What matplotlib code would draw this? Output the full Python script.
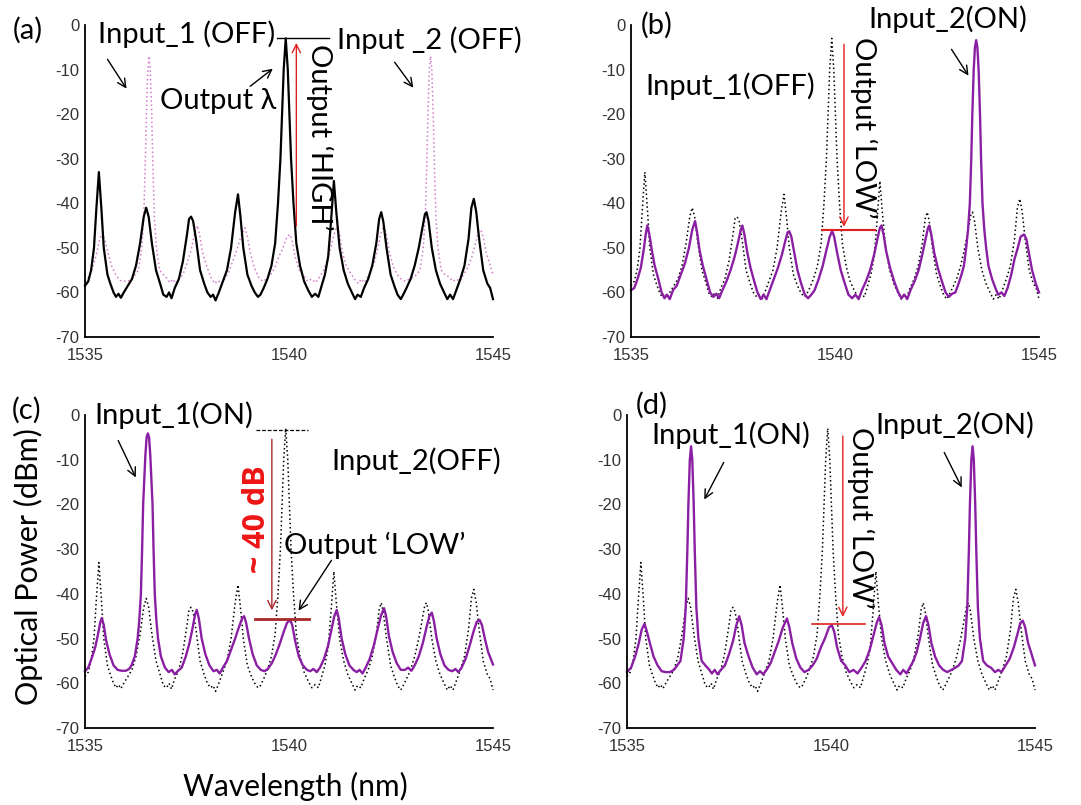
import numpy as np
import matplotlib
matplotlib.use("Agg")
import matplotlib.pyplot as plt

W, H = 1081, 805

# ---------------- data (wavelength nm, power dBm) ----------------
# output of the gate, both inputs OFF (black in (a), dotted reference in b-d)
spec_out = [
    (1535.00, -58.5), (1535.08, -57.5), (1535.15, -55), (1535.22, -50), (1535.28, -41),
    (1535.34, -33), (1535.40, -41), (1535.46, -50), (1535.55, -56), (1535.62, -58),
    (1535.70, -60), (1535.76, -61), (1535.82, -60.3), (1535.88, -61.2), (1535.95, -60),
    (1536.05, -58.5), (1536.15, -57), (1536.25, -54), (1536.35, -49), (1536.44, -43),
    (1536.50, -41), (1536.56, -43), (1536.64, -49), (1536.74, -55), (1536.84, -58),
    (1536.92, -60.5), (1537.00, -61), (1537.06, -60), (1537.12, -61.3), (1537.20, -59),
    (1537.30, -57), (1537.40, -53), (1537.50, -47), (1537.55, -43.5), (1537.60, -43),
    (1537.65, -44), (1537.72, -48), (1537.82, -55), (1537.92, -58), (1538.00, -60),
    (1538.08, -61), (1538.14, -60.5), (1538.20, -61.8), (1538.28, -60), (1538.38, -57.5),
    (1538.48, -55), (1538.58, -50), (1538.68, -42), (1538.75, -38), (1538.81, -43),
    (1538.88, -50), (1538.98, -56), (1539.08, -58.5), (1539.16, -60), (1539.24, -61),
    (1539.30, -60.5), (1539.38, -59), (1539.47, -57), (1539.57, -54), (1539.66, -49),
    (1539.73, -40), (1539.79, -30), (1539.83, -20), (1539.87, -10), (1539.92, -3),
    (1539.97, -10), (1540.01, -20), (1540.05, -30), (1540.11, -40), (1540.18, -49),
    (1540.27, -54), (1540.37, -57.5), (1540.47, -59.5), (1540.56, -61), (1540.64, -60.3),
    (1540.72, -61), (1540.80, -58.5), (1540.88, -56), (1540.96, -52), (1541.03, -44),
    (1541.10, -35), (1541.16, -42), (1541.24, -50), (1541.34, -55), (1541.44, -58),
    (1541.54, -60), (1541.62, -61.5), (1541.68, -60.5), (1541.76, -61), (1541.84, -59),
    (1541.94, -57), (1542.04, -54), (1542.14, -49), (1542.21, -43.5), (1542.26, -42),
    (1542.31, -44), (1542.39, -50), (1542.49, -56), (1542.58, -58.5), (1542.66, -60.5),
    (1542.74, -61.5), (1542.80, -60.5), (1542.88, -59), (1542.98, -57), (1543.08, -54),
    (1543.18, -50), (1543.28, -45), (1543.33, -42.5), (1543.37, -42), (1543.42, -44),
    (1543.50, -50), (1543.60, -55), (1543.70, -58), (1543.80, -60), (1543.88, -61.5),
    (1543.95, -60.5), (1544.02, -61.5), (1544.10, -59.5), (1544.20, -57), (1544.30, -54),
    (1544.40, -48), (1544.47, -41), (1544.53, -39), (1544.59, -42), (1544.66, -48),
    (1544.76, -55), (1544.86, -58), (1544.93, -59), (1545.00, -61.5),
]

# Input_2 ON (purple in (b))
spec_b = [
    (1535.00, -59.5), (1535.08, -59), (1535.16, -57), (1535.24, -54.5), (1535.31, -50.5),
    (1535.36, -47), (1535.40, -45), (1535.45, -47), (1535.51, -50.5), (1535.58, -54),
    (1535.67, -57), (1535.75, -60), (1535.82, -61.3), (1535.88, -60.5), (1535.95, -61.5),
    (1536.03, -59.5), (1536.12, -58.5), (1536.22, -56), (1536.32, -53.5), (1536.42, -50),
    (1536.50, -46), (1536.57, -44), (1536.62, -46.5), (1536.68, -50.5), (1536.76, -54),
    (1536.85, -57), (1536.94, -60), (1537.02, -61), (1537.09, -60.3), (1537.16, -61.3),
    (1537.24, -59.5), (1537.34, -57.5), (1537.44, -55), (1537.54, -52), (1537.63, -48.5),
    (1537.69, -46), (1537.73, -45), (1537.78, -47), (1537.85, -51), (1537.93, -54.5),
    (1538.02, -57.5), (1538.10, -60), (1538.18, -61.5), (1538.25, -60.5), (1538.32, -61.5),
    (1538.40, -59.5), (1538.50, -57), (1538.60, -54.5), (1538.70, -51.5), (1538.78, -48.5),
    (1538.84, -46.5), (1538.88, -46.3), (1538.93, -47.5), (1539.00, -51), (1539.08, -55),
    (1539.17, -58), (1539.26, -60.5), (1539.34, -61.3), (1539.42, -60.5), (1539.50, -59.5),
    (1539.60, -57), (1539.70, -54), (1539.79, -50.5), (1539.87, -47.5), (1539.93, -46.2),
    (1539.98, -47.5), (1540.05, -51), (1540.14, -55), (1540.24, -58), (1540.33, -60.5),
    (1540.42, -61.3), (1540.50, -60.5), (1540.58, -61.5), (1540.66, -59.5), (1540.76, -57.5),
    (1540.86, -55), (1540.96, -51.5), (1541.04, -48), (1541.10, -45.5), (1541.14, -45),
    (1541.19, -47), (1541.26, -51), (1541.35, -54.5), (1541.45, -57.5), (1541.55, -60),
    (1541.63, -61.3), (1541.70, -60.5), (1541.77, -61.5), (1541.85, -59.5), (1541.95, -57.5),
    (1542.05, -55), (1542.14, -51.5), (1542.22, -48), (1542.28, -45.5), (1542.31, -45),
    (1542.36, -47), (1542.43, -51), (1542.52, -54.5), (1542.62, -57.5), (1542.71, -60),
    (1542.79, -61), (1542.87, -60.3), (1542.95, -60), (1543.03, -58), (1543.10, -56),
    (1543.16, -54), (1543.215, -50), (1543.26, -46), (1543.305, -40), (1543.34, -30),
    (1543.366, -20), (1543.40, -10), (1543.43, -5), (1543.46, -3.4), (1543.49, -5),
    (1543.52, -10), (1543.554, -20), (1543.58, -30), (1543.615, -40), (1543.66, -46),
    (1543.705, -50), (1543.76, -54), (1543.85, -57), (1543.93, -59), (1544.00, -60.5),
    (1544.08, -60), (1544.15, -60.8), (1544.23, -59), (1544.32, -56), (1544.40, -52.5),
    (1544.48, -50), (1544.55, -47.5), (1544.63, -47), (1544.69, -48), (1544.75, -51),
    (1544.83, -55), (1544.92, -58), (1545.00, -60),
]

# Input_1 ON (purple in (c))
spec_c = [
    (1535.00, -57.3), (1535.08, -56.5), (1535.16, -54.5), (1535.25, -52), (1535.32, -49),
    (1535.37, -46.5), (1535.41, -45.4), (1535.46, -47), (1535.52, -50.5), (1535.60, -53.5),
    (1535.70, -56), (1535.80, -57), (1535.90, -57.2), (1536.00, -57.2), (1536.08, -56.8),
    (1536.14, -56), (1536.22, -54), (1536.29, -50), (1536.33, -46), (1536.37, -40),
    (1536.40, -30), (1536.425, -20), (1536.45, -15), (1536.48, -9), (1536.51, -5),
    (1536.54, -4.1), (1536.57, -5), (1536.60, -9), (1536.63, -15), (1536.655, -20),
    (1536.68, -30), (1536.71, -40), (1536.75, -46), (1536.79, -50), (1536.86, -54),
    (1536.96, -56.5), (1537.05, -57.5), (1537.13, -57), (1537.20, -58), (1537.28, -57.2),
    (1537.37, -56.5), (1537.47, -54), (1537.56, -51), (1537.64, -47.5), (1537.70, -44.5),
    (1537.74, -43.6), (1537.79, -45.5), (1537.86, -50), (1537.95, -53.5), (1538.05, -56),
    (1538.15, -57.3), (1538.23, -57), (1538.30, -57.8), (1538.38, -56.5), (1538.48, -55),
    (1538.58, -52.5), (1538.68, -50), (1538.77, -47.5), (1538.85, -45.5), (1538.90, -45),
    (1538.95, -46.5), (1539.02, -50), (1539.11, -53.5), (1539.21, -56), (1539.31, -57),
    (1539.40, -57.3), (1539.48, -56.8), (1539.58, -55.5), (1539.68, -53.5), (1539.78, -51),
    (1539.87, -48.5), (1539.95, -46.5), (1540.03, -45.8), (1540.08, -47), (1540.15, -50.5),
    (1540.24, -54), (1540.34, -56), (1540.44, -57), (1540.52, -57.3), (1540.60, -56.8),
    (1540.68, -57.5), (1540.76, -56.5), (1540.86, -54.5), (1540.96, -51.5), (1541.04, -48),
    (1541.11, -45), (1541.17, -43.6), (1541.22, -45.5), (1541.29, -50), (1541.38, -53.5),
    (1541.48, -56), (1541.58, -57), (1541.66, -57.5), (1541.73, -57), (1541.80, -57.8),
    (1541.88, -56.5), (1541.98, -54.5), (1542.08, -51.5), (1542.17, -48), (1542.25, -45),
    (1542.33, -43.2), (1542.38, -45), (1542.45, -49.5), (1542.54, -53), (1542.64, -55.5),
    (1542.74, -57), (1542.84, -57), (1542.92, -56.5), (1543.00, -57.2), (1543.08, -56),
    (1543.18, -54), (1543.28, -51), (1543.37, -47.5), (1543.44, -45), (1543.50, -44.2),
    (1543.55, -46), (1543.62, -50), (1543.71, -53.5), (1543.81, -56), (1543.91, -57),
    (1544.00, -57.3), (1544.08, -56.8), (1544.15, -57.5), (1544.23, -56.5), (1544.33, -54.5),
    (1544.43, -51.5), (1544.52, -48.5), (1544.60, -46.3), (1544.67, -45.8), (1544.73, -47),
    (1544.80, -50), (1544.88, -53), (1545.00, -55.8),
]

# both inputs ON (purple in (d), pink dotted in (a))
spec_d = [
    (1535.00, -57.5), (1535.10, -56.5), (1535.20, -54), (1535.29, -51), (1535.36, -48),
    (1535.43, -46.7), (1535.49, -48.5), (1535.56, -51), (1535.65, -54), (1535.75, -56),
    (1535.85, -57.3), (1535.95, -57.5), (1536.05, -57.5), (1536.15, -57), (1536.23, -56),
    (1536.31, -55), (1536.39, -50), (1536.44, -43), (1536.48, -30), (1536.505, -20),
    (1536.54, -10), (1536.57, -7), (1536.60, -10), (1536.635, -20), (1536.66, -30),
    (1536.70, -43), (1536.75, -50), (1536.83, -55), (1536.92, -56), (1537.00, -56.8),
    (1537.08, -57.8), (1537.15, -57), (1537.22, -58), (1537.30, -57), (1537.40, -56),
    (1537.50, -53.5), (1537.60, -50.5), (1537.68, -47), (1537.75, -45), (1537.81, -47),
    (1537.88, -51), (1537.98, -54), (1538.08, -56.5), (1538.18, -58), (1538.26, -57.3),
    (1538.34, -58), (1538.42, -57), (1538.52, -55.5), (1538.62, -53), (1538.72, -50.5),
    (1538.82, -47.5), (1538.92, -45.5), (1538.98, -47.5), (1539.05, -51), (1539.15, -54.5),
    (1539.25, -56.5), (1539.35, -57.5), (1539.45, -57), (1539.55, -56), (1539.65, -54.5),
    (1539.75, -52), (1539.85, -50), (1539.95, -47.5), (1540.02, -47), (1540.08, -48.5),
    (1540.15, -52), (1540.25, -55), (1540.35, -56), (1540.45, -57.5), (1540.55, -57),
    (1540.65, -57.8), (1540.75, -56.5), (1540.85, -55), (1540.95, -52.5), (1541.05, -49),
    (1541.12, -46.5), (1541.18, -45.2), (1541.24, -47), (1541.31, -51), (1541.40, -54),
    (1541.50, -55.5), (1541.60, -57), (1541.70, -58), (1541.77, -57), (1541.85, -57.8),
    (1541.93, -56.5), (1542.02, -55), (1542.10, -53), (1542.18, -50), (1542.26, -46.5),
    (1542.33, -45), (1542.39, -47), (1542.46, -51), (1542.55, -54), (1542.65, -56),
    (1542.75, -57), (1542.85, -57.5), (1542.95, -57), (1543.05, -56.5), (1543.13, -56),
    (1543.21, -55), (1543.29, -50), (1543.34, -43), (1543.38, -30), (1543.405, -20),
    (1543.44, -10), (1543.47, -7), (1543.50, -10), (1543.535, -20), (1543.56, -30),
    (1543.60, -43), (1543.65, -50), (1543.73, -55), (1543.82, -56), (1543.92, -56.5),
    (1544.02, -57.5), (1544.10, -57), (1544.18, -57.5), (1544.28, -56), (1544.38, -54.5),
    (1544.48, -52), (1544.57, -49), (1544.64, -46.5), (1544.70, -46), (1544.76, -47.5),
    (1544.83, -51), (1544.90, -53), (1545.00, -56),
]

x_ticks = [1535, 1540, 1545]
y_ticks = [0, -10, -20, -30, -40, -50, -60, -70]
y_tick_labels = ["0", "-10", "-20", "-30", "-40", "-50", "-60", "-70"]

PURPLE = "#8a1fa3"
PINK = "#d27ac8"
RED = "#e02020"
DARKRED = "#a8282a"
ANN_FONT = ["Lato", "DejaVu Sans"]
TICK_FONT = ["Liberation Sans", "DejaVu Sans"]
ANN_SIZE = 21

fig = plt.figure(figsize=(W / 100, H / 100), dpi=100)


def px_axes(left, right, top, bottom):
    return fig.add_axes([left / W, 1 - bottom / H, (right - left) / W, (bottom - top) / H])


def fig_text(px, py, s, size=ANN_SIZE, rot=0, **kw):
    fig.text(px / W, 1 - py / H, s, fontsize=size, rotation=rot, ha="center",
             va="center", family=kw.pop("family", ANN_FONT), **kw)


def fig_arrow(tail, head, color="black", lw=1.0):
    fig.add_artist(matplotlib.patches.FancyArrowPatch(
        (tail[0] / W, 1 - tail[1] / H), (head[0] / W, 1 - head[1] / H),
        transform=fig.transFigure, arrowstyle="->", mutation_scale=15,
        color=color, lw=lw))


def style_axes(ax):
    ax.set_xlim(1535, 1545)
    ax.set_ylim(-70, 0)
    ax.spines["top"].set_visible(False)
    ax.spines["right"].set_visible(False)
    for s in ("left", "bottom"):
        ax.spines[s].set_linewidth(1.3)
    ax.set_xticks(x_ticks)
    ax.set_yticks(y_ticks)
    ax.set_yticklabels(y_tick_labels)
    ax.tick_params(length=0, labelsize=12, labelcolor="#333333")
    ax.tick_params(axis="x", pad=8)
    ax.tick_params(axis="y", pad=4)
    for lab in ax.get_xticklabels() + ax.get_yticklabels():
        lab.set_family(TICK_FONT)
    ax.patch.set_alpha(0)


def plot_spec(ax, spec, **kw):
    arr = np.array(spec)
    ax.plot(arr[:, 0], arr[:, 1], clip_on=False, **kw)


dots = dict(linestyle=(0, (1, 1.8)), lw=1.1)

# ---------------- (a) ----------------
ax_a = px_axes(85, 493, 25, 337)
style_axes(ax_a)
plot_spec(ax_a, spec_d, color=PINK, zorder=1, **dots)
plot_spec(ax_a, spec_out, color="black", lw=1.6, zorder=2)
ax_a.plot([1539.70, 1540.97], [-3, -3], color="black", lw=1.0, clip_on=False)
ax_a.annotate("", xy=(1540.18, -3.4), xytext=(1540.18, -45.7),
              arrowprops=dict(arrowstyle="->", color=RED, lw=1.0, mutation_scale=15))
fig_text(28, 30, "(a)")
fig_text(187, 34, "Input_1 (OFF)")
fig_text(218, 101, "Output \u03bb")
fig_text(429, 40, "Input _2 (OFF)")
fig_text(320, 137, "Output \u2018HIGH\u2019", rot=270)
fig_arrow((106, 57), (128, 91))
fig_arrow((248, 88), (275, 67))
fig_arrow((393, 60), (415, 90))

# ---------------- (b) ----------------
ax_b = px_axes(631, 1039, 25, 337)
style_axes(ax_b)
plot_spec(ax_b, spec_out, color="black", zorder=1, **dots)
plot_spec(ax_b, spec_b, color=PURPLE, lw=1.7, zorder=2)
ax_b.plot([1539.67, 1540.98], [-46, -46], color=RED, lw=1.5, clip_on=False, zorder=3)
ax_b.annotate("", xy=(1540.22, -45.9), xytext=(1540.22, -3.7),
              arrowprops=dict(arrowstyle="->", color=RED, lw=1.0, mutation_scale=15))
fig_text(657, 25, "(b)")
fig_text(948, 19, "Input_2(ON)")
fig_text(730, 86, "Input_1(OFF)")
fig_text(864, 128, "Output \u2018LOW\u2019", rot=270)
fig_arrow((950, 47), (970, 78))

# ---------------- (c) ----------------
ax_c = px_axes(85, 493, 415, 728)
style_axes(ax_c)
plot_spec(ax_c, spec_out, color="black", zorder=1, **dots)
plot_spec(ax_c, spec_c, color=PURPLE, lw=1.7, zorder=2)
ax_c.plot([1539.17, 1540.48], [-45.6, -45.6], color=DARKRED, lw=2.0, clip_on=False, zorder=3)
ax_c.plot([1539.20, 1540.47], [-3.35, -3.35], color="black", lw=0.9, ls=(0, (3, 1.5)),
          clip_on=False)
ax_c.annotate("", xy=(1539.58, -44.3), xytext=(1539.58, -4.8),
              arrowprops=dict(arrowstyle="->", color=DARKRED, lw=1.0, mutation_scale=15))
fig_text(27, 410, "(c)")
fig_text(174, 415, "Input_1(ON)")
fig_text(416, 461, "Input_2(OFF)")
fig_text(257, 519, "~ 40 dB", size=22, rot=90, color="#ee1515", fontweight="bold",
         family=["Open Sans", "DejaVu Sans"])
fig_text(375, 545, "Output \u2018LOW\u2019")
fig_arrow((333, 558), (297, 613))
fig_arrow((117, 438), (137, 480))

# ---------------- (d) ----------------
ax_d = px_axes(627, 1035, 415, 728)
style_axes(ax_d)
plot_spec(ax_d, spec_out, color="black", zorder=1, **dots)
plot_spec(ax_d, spec_d, color=PURPLE, lw=1.7, zorder=2)
ax_d.plot([1539.53, 1540.84], [-46.8, -46.8], color=RED, lw=1.2, clip_on=False, zorder=3)
ax_d.annotate("", xy=(1540.29, -45.8), xytext=(1540.29, -4.1),
              arrowprops=dict(arrowstyle="->", color=RED, lw=1.0, mutation_scale=15))
fig_text(652, 405, "(d)")
fig_text(731, 435, "Input_1(ON)")
fig_text(955, 425, "Input_2(ON)")
fig_text(861, 518, "Output \u2018LOW\u2019", rot=270)
fig_arrow((725, 460), (703, 502))
fig_arrow((943, 450), (963, 490))

# shared axis titles
fig_text(28, 567, "Optical Power (dBm)", size=22, rot=90)
fig_text(295, 786, "Wavelength (nm)", size=21.5)

fig.savefig("out.png", dpi=100)
